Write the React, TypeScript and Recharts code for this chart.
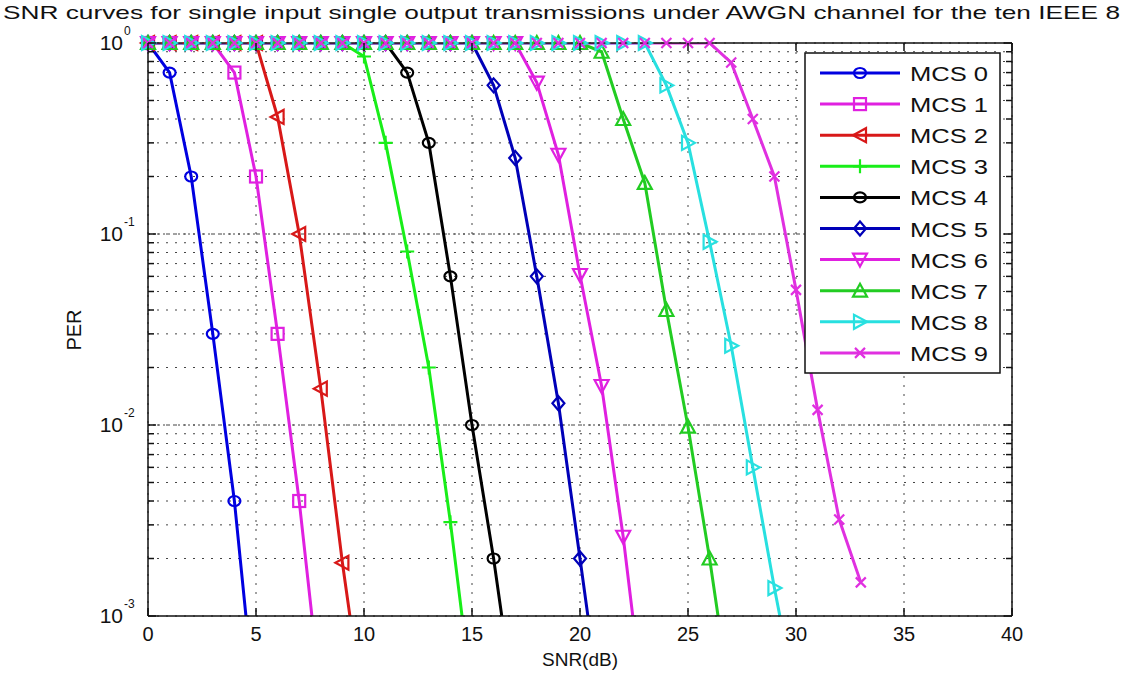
import React from 'react';
import { LineChart, Line, XAxis, YAxis, CartesianGrid, ReferenceLine } from 'recharts';

// SNR grid (dB), one point per dB
const snr = [0, 1, 2, 3, 4, 5, 6, 7, 8, 9, 10, 11, 12, 13, 14, 15, 16, 17, 18, 19, 20, 21, 22, 23, 24, 25, 26, 27, 28, 29, 30, 31, 32, 33];

const seriesNames = ['MCS 0', 'MCS 1', 'MCS 2', 'MCS 3', 'MCS 4', 'MCS 5', 'MCS 6', 'MCS 7', 'MCS 8', 'MCS 9'];
const seriesColors = ['#0000e0', '#e020e0', '#d81818', '#18ee18', '#000000', '#0000b8', '#e020e0', '#22cc22', '#28e0e0', '#e030e0'];
const seriesMarkers = ['o', 's', '<', '+', 'o', 'd', 'v', '^', '>', 'x'];

// PER
const mcs0 = [1, 0.70, 0.20, 0.030, 0.0040, 0.0003];
const mcs1 = [1, 1, 1, 1, 0.70, 0.20, 0.030, 0.0040, 0.00038];
const mcs2 = [1, 1, 1, 1, 1, 1, 0.41, 0.10, 0.0155, 0.0019, 0.0003];
const mcs3 = [1, 1, 1, 1, 1, 1, 1, 1, 1, 1, 0.85, 0.30, 0.081, 0.020, 0.0031, 0.00038];
const mcs4 = [1, 1, 1, 1, 1, 1, 1, 1, 1, 1, 1, 1, 0.70, 0.30, 0.060, 0.010, 0.0020, 0.00032];
const mcs5 = [1, 1, 1, 1, 1, 1, 1, 1, 1, 1, 1, 1, 1, 1, 1, 1, 0.60, 0.25, 0.060, 0.013, 0.0020, 0.0003];
const mcs6 = [1, 1, 1, 1, 1, 1, 1, 1, 1, 1, 1, 1, 1, 1, 1, 1, 1, 1, 0.62, 0.26, 0.061, 0.016, 0.0026, 0.0003];
const mcs7 = [1, 1, 1, 1, 1, 1, 1, 1, 1, 1, 1, 1, 1, 1, 1, 1, 1, 1, 1, 1, 1, 0.90, 0.40, 0.185, 0.040, 0.0098, 0.0020, 0.00034];
const mcs8 = [1, 1, 1, 1, 1, 1, 1, 1, 1, 1, 1, 1, 1, 1, 1, 1, 1, 1, 1, 1, 1, 1, 1, 1, 0.60, 0.30, 0.091, 0.026, 0.0060, 0.0014, 0.00037];
const mcs9 = [1, 1, 1, 1, 1, 1, 1, 1, 1, 1, 1, 1, 1, 1, 1, 1, 1, 1, 1, 1, 1, 1, 1, 1, 1, 1, 1, 0.79, 0.40, 0.20, 0.051, 0.012, 0.0032, 0.0015];

const allSeries = [mcs0, mcs1, mcs2, mcs3, mcs4, mcs5, mcs6, mcs7, mcs8, mcs9];

const xTicks = [0, 5, 10, 15, 20, 25, 30, 35, 40];
const yDecades = [0.001, 0.01, 0.1];
const yTicks = [...yDecades.flatMap(d => [1, 2, 3, 4, 5, 6, 7, 8, 9].map(m => +(d * m).toPrecision(3))), 1];

const Y_MIN = 0.001;
const FONT = 'Liberation Sans, Arial, sans-serif';

// p = path (clipped), m = marker (only inside the axes)
const data = snr.map((s, i) => {
  const row: Record<string, number> = { snr: s };
  allSeries.forEach((arr, k) => {
    const v = arr[i];
    if (v !== undefined) {
      row['p' + k] = v;
      if (v >= Y_MIN) row['m' + k] = v;
    }
  });
  return row;
});

const isDecade = (v: number) => Math.abs(Math.log10(v) - Math.round(Math.log10(v))) < 1e-9;

const Marker = ({ shape, cx, cy, color }: { shape: string; cx: number; cy: number; color: string }) => {
  const common = { fill: 'none', stroke: color, strokeWidth: 2.2 };
  switch (shape) {
    case 'o':
      return <ellipse cx={cx} cy={cy} rx={6} ry={5} {...common} />;
    case 's':
      return <rect x={cx - 6} y={cy - 6} width={12} height={12} {...common} />;
    case '<':
      return <polygon points={`${cx - 7},${cy} ${cx + 6},${cy - 7} ${cx + 6},${cy + 7}`} {...common} />;
    case '>':
      return <polygon points={`${cx + 7},${cy} ${cx - 6},${cy - 7} ${cx - 6},${cy + 7}`} {...common} />;
    case '^':
      return <polygon points={`${cx},${cy - 7} ${cx + 7},${cy + 6} ${cx - 7},${cy + 6}`} {...common} />;
    case 'v':
      return <polygon points={`${cx},${cy + 7} ${cx + 7},${cy - 6} ${cx - 7},${cy - 6}`} {...common} />;
    case 'd':
      return <polygon points={`${cx},${cy - 7} ${cx + 6},${cy} ${cx},${cy + 7} ${cx - 6},${cy}`} {...common} />;
    case '+':
      return <path d={`M${cx - 7},${cy}H${cx + 7}M${cx},${cy - 7}V${cy + 7}`} {...common} />;
    case 'x':
      return <path d={`M${cx - 5},${cy - 5}L${cx + 5},${cy + 5}M${cx + 5},${cy - 5}L${cx - 5},${cy + 5}`} {...common} />;
    default:
      return null;
  }
};

const AXIS = '#111';

const LeftTick = ({ x, y, payload }: any) => {
  const v = payload.value;
  const dec = isDecade(v);
  return (
    <g>
      <line x1={x} x2={x + (dec ? 8 : 6)} y1={y} y2={y} stroke={AXIS} strokeWidth={1.5} />
      {dec && (
        <g fontFamily={FONT} fill="#111">
          <text x={x - 25} y={y + 7} textAnchor="end" fontSize={21}>10</text>
          <text x={x - 24} y={y - 8} fontSize={12}>{`${Math.round(Math.log10(v))}`}</text>
        </g>
      )}
    </g>
  );
};

const RightTick = ({ x, y, payload }: any) => {
  const dec = isDecade(payload.value);
  return <line x1={x} x2={x - (dec ? 8 : 6)} y1={y} y2={y} stroke={AXIS} strokeWidth={1.5} />;
};

const BottomTick = ({ x, y, payload }: any) => (
  <g>
    <line x1={x} x2={x} y1={y} y2={y - 8} stroke={AXIS} strokeWidth={1.5} />
    <text x={x} y={y + 25} textAnchor="middle" fontSize={20} fontFamily={FONT} fill="#111">{payload.value}</text>
  </g>
);

const TopTick = ({ x, y }: any) => <line x1={x} x2={x} y1={y} y2={y + 8} stroke={AXIS} strokeWidth={1.5} />;

export default function App() {
  return (
    <div style={{ position: 'absolute', left: 0, top: 0, width: 1123, height: 679, background: '#fff', overflow: 'hidden' }}>
      <LineChart width={1123} height={679} data={data} margin={{ top: 38, right: 101, bottom: 23, left: 0 }}>
        <XAxis xAxisId="b" dataKey="snr" type="number" domain={[0, 40]} ticks={xTicks} interval={0}
          height={40} tickSize={0} tickMargin={0} tickLine={false} tick={<BottomTick />}
          axisLine={{ stroke: AXIS, strokeWidth: 1.5 }} />
        <XAxis xAxisId="t" orientation="top" dataKey="snr" type="number" domain={[0, 40]} ticks={xTicks} interval={0}
          height={5} tickSize={0} tickMargin={0} tickLine={false} tick={<TopTick />}
          axisLine={{ stroke: AXIS, strokeWidth: 1.5 }} />
        <YAxis yAxisId="l" type="number" scale="log" domain={[Y_MIN, 1]} allowDataOverflow ticks={yTicks} interval={0}
          width={148} tickSize={0} tickMargin={0} tickLine={false} tick={<LeftTick />}
          axisLine={{ stroke: AXIS, strokeWidth: 1.5 }} />
        <YAxis yAxisId="r" orientation="right" type="number" scale="log" domain={[Y_MIN, 1]} ticks={yTicks} interval={0}
          width={10} tickSize={0} tickMargin={0} tickLine={false} tick={<RightTick />}
          axisLine={{ stroke: AXIS, strokeWidth: 1.5 }} />

        <CartesianGrid xAxisId="b" yAxisId="l" stroke="#444" strokeDasharray="2 7"
          vertical={{ strokeDasharray: '2 5' } as any} />
        {[0.01, 0.1].map(v => (
          <ReferenceLine key={'d' + v} xAxisId="b" yAxisId="l" y={v} stroke="#444" strokeDasharray="2 3" />
        ))}

        {seriesNames.map((name, k) => (
          <Line key={'p' + k} xAxisId="b" yAxisId="l" dataKey={'p' + k} name={name} type="linear"
            stroke={seriesColors[k]} strokeWidth={3} dot={false} activeDot={false}
            isAnimationActive={false} legendType="none" />
        ))}
        {seriesNames.map((name, k) => (
          <Line key={'m' + k} xAxisId="t" yAxisId="r" dataKey={'m' + k} name={name + ' markers'} type="linear"
            stroke="none" activeDot={false} isAnimationActive={false} legendType="none"
            dot={(p: any) => (p.value == null || p.cy == null)
              ? <g key={`m${k}-${p.index}`} />
              : <g key={`m${k}-${p.index}`}><Marker shape={seriesMarkers[k]} cx={p.cx} cy={p.cy} color={seriesColors[k]} /></g>} />
        ))}
      </LineChart>

      <svg width={1123} height={679} style={{ position: 'absolute', left: 0, top: 0, pointerEvents: 'none' }}>
        <g fontFamily={FONT} fill="#111">
          <text x={3} y={19} fontSize={19} textLength={1117} lengthAdjust="spacingAndGlyphs">
            SNR curves for single input single output transmissions under AWGN channel for the ten IEEE 8
          </text>
          <text x={580} y={666} fontSize={19} textAnchor="middle">SNR(dB)</text>
          <text transform="translate(81,330) rotate(-90)" fontSize={20} textAnchor="middle">PER</text>
        </g>
        <g>
          <rect x={805} y={53} width={195} height={320} fill="#fff" stroke={AXIS} strokeWidth={1.5} />
          {seriesNames.map((name, k) => {
            const cy = 73 + k * 31.1;
            return (
              <g key={name}>
                <line x1={820} x2={900} y1={cy} y2={cy} stroke={seriesColors[k]} strokeWidth={3} />
                <Marker shape={seriesMarkers[k]} cx={860} cy={cy} color={seriesColors[k]} />
                <text x={910} y={cy + 8} fontSize={20} fontFamily={FONT} fill="#111"
                  textLength={78} lengthAdjust="spacingAndGlyphs">{name}</text>
              </g>
            );
          })}
        </g>
      </svg>
    </div>
  );
}
